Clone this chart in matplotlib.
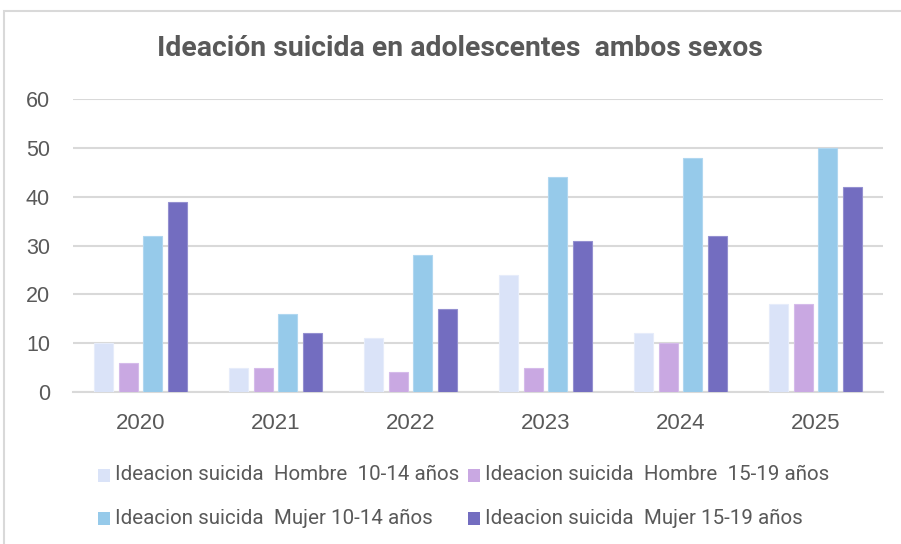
import matplotlib
matplotlib.use("Agg")
import matplotlib.pyplot as plt
import numpy as np
from matplotlib.patches import Rectangle

years = ["2020", "2021", "2022", "2023", "2024", "2025"]
series_names = [
    "Ideacion suicida  Hombre  10-14 años",
    "Ideacion suicida  Hombre  15-19 años",
    "Ideacion suicida  Mujer 10-14 años",
    "Ideacion suicida  Mujer 15-19 años",
]
hombre_10_14 = [10, 5, 11, 24, 12, 18]
hombre_15_19 = [6, 5, 4, 5, 10, 18]
mujer_10_14 = [32, 16, 28, 44, 48, 50]
mujer_15_19 = [39, 12, 17, 31, 32, 42]
colors = ["#DAE3F8", "#C9A8E2", "#96CAEA", "#736DC0"]
edge_colors = ["#E6ECFA", "#D5BBEA", "#B0D7F0", "#9490D0"]

plt.rcParams['font.family'] = ['Roboto', 'DejaVu Sans']
txt = "#595959"
W, H = 901, 544

fig = plt.figure(figsize=(9.01, 5.44), dpi=100)
fig.patches.append(Rectangle((4/W, -0.01), 1.0, 1 - 11/H + 0.01, transform=fig.transFigure,
                             fill=False, edgecolor="#D9D9D9", linewidth=1.5))

ax = fig.add_axes([73/W, 1 - 392/H, 810/W, (392 - 99)/H])
x = np.arange(len(years))
pitch = 0.1815
width = 0.141
data = [hombre_10_14, hombre_15_19, mujer_10_14, mujer_15_19]
for i, vals in enumerate(data):
    ax.bar(x + (i - 1.5) * pitch, vals, width, color=colors[i], edgecolor=edge_colors[i],
           linewidth=0.8, zorder=3)

ax.set_xlim(-0.5, len(years) - 0.5)
ax.set_ylim(0, 60)
ax.set_yticks(range(0, 61, 10))
ax.set_xticks(x)
ax.set_xticklabels(years)
ax.yaxis.grid(True, color="#D9D9D9", linewidth=1.5, zorder=0)
ax.set_axisbelow(True)
for s in ["top", "right", "left"]:
    ax.spines[s].set_visible(False)
ax.spines["bottom"].set_color("#D9D9D9")
ax.spines["bottom"].set_linewidth(1.5)
ax.tick_params(axis="both", length=0, labelcolor=txt)
for lab in ax.get_yticklabels():
    lab.set_fontfamily(['Liberation Sans', 'DejaVu Sans'])
    lab.set_fontsize(15.5)
for lab in ax.get_xticklabels():
    lab.set_fontfamily(['Liberation Sans', 'DejaVu Sans'])
    lab.set_fontsize(16)
ax.tick_params(axis="y", pad=16.5)
ax.tick_params(axis="x", pad=15)

fig.text(460/W, 1 - 49/H, "Ideación suicida en adolescentes  ambos sexos", ha="center", va="center",
         fontsize=20.4, fontweight="bold", color=txt)

# legend, row-major like the original
sq_x = [98, 468]
tx_x = [115, 485]
row_y = [475, 518]
for k, name in enumerate(series_names):
    r, c = divmod(k, 2)
    fig.patches.append(Rectangle((sq_x[c]/W, 1 - (row_y[r] + 6.5)/H), 12/W, 13/H,
                                 transform=fig.transFigure, facecolor=colors[k], edgecolor="none"))
    fig.text(tx_x[c]/W, 1 - row_y[r]/H, name, ha="left", va="center", fontsize=14.8,
             color=txt)

fig.savefig("out.png", dpi=100)
